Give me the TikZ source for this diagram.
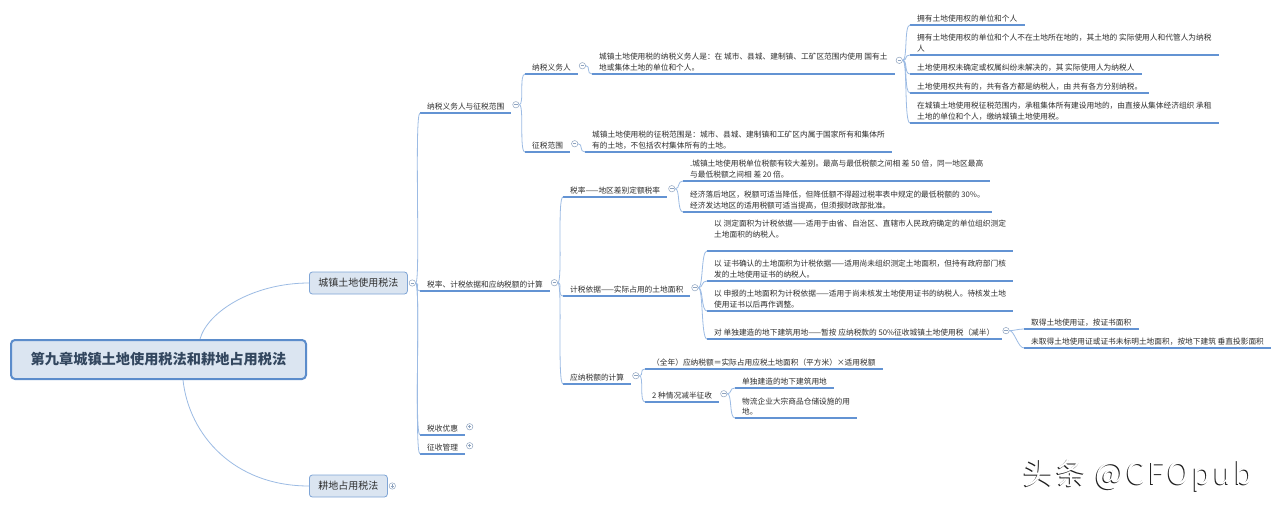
\documentclass[tikz,border=0pt]{standalone}
\usepackage{fontspec}
\setmainfont{Noto Sans CJK SC}
\definecolor{fondoTema}{HTML}{DBE5F1}
\definecolor{bordeRaiz}{HTML}{5B8CCB}
\definecolor{bordeTema}{HTML}{7FA5D6}
\definecolor{lineaRama}{HTML}{9CBBE4}
\definecolor{lineaTema}{HTML}{6393D3}
\definecolor{textoGris}{HTML}{2E2E2E}
\definecolor{textoRaiz}{HTML}{33475F}
\definecolor{marcaGris}{HTML}{8EA3BF}
\definecolor{sombra}{HTML}{1E1E1E}

\tikzset{
  tema/.style={anchor=south west, inner xsep=7pt, inner ysep=2.5pt, align=left},
  subrayado/.style={draw=lineaTema, line width=1.1pt},
  rama/.style={draw=lineaRama, line width=0.8pt},
  raizcaja/.style={rounded corners=4pt, fill=fondoTema, draw=bordeRaiz,
    line width=2pt, minimum width=295pt, minimum height=39pt,
    font=\fontsize{14.2}{16}\selectfont\bfseries, text=textoRaiz},
  temacaja/.style={rounded corners=3pt, fill=fondoTema, draw=bordeTema,
    line width=0.8pt, minimum height=22pt, inner xsep=9pt,
    font=\fontsize{10}{12}\selectfont, anchor=west},
  marcabase/.style={circle, draw=marcaGris, fill=white, line width=0.5pt,
    minimum size=6.4pt, inner sep=0pt},
  colapsar/.style={marcabase, path picture={
    \draw[marcaGris, line width=0.6pt]
      ([xshift=1.5pt]path picture bounding box.west) --
      ([xshift=-1.5pt]path picture bounding box.east);}},
  expandir/.style={marcabase, path picture={
    \draw[marcaGris, line width=0.6pt]
      ([xshift=1.5pt]path picture bounding box.west) --
      ([xshift=-1.5pt]path picture bounding box.east)
      ([yshift=1.5pt]path picture bounding box.south) --
      ([yshift=-1.5pt]path picture bounding box.north);}},
  firmaletra/.style={font=\fontsize{30}{32}\selectfont\addfontfeature{LetterSpace=9},
    anchor=west},
}

\begin{document}
\begin{tikzpicture}[x=1pt, y=-1pt,
    every node/.style={font=\fontsize{7.7}{10.8}\selectfont, text=textoGris}]

  \useasboundingbox (0,0) rectangle (1280,508);
  \fill[white] (0,0) rectangle (1280,508);

  \def\XB{420}    % ramas de segundo nivel
  \def\XC{525}    % sujetos / ambito
  \def\XD{563}    % tasa / base / cuota
  \def\XE{910}    % casos de contribuyente

  % ── Tema central y temas principales ──────────────────────
  \node[raizcaja] (raiz) at (158.5,359.5) {第九章城镇土地使用税法和耕地占用税法};
  \node[temacaja] (urbano) at (309,283) {城镇土地使用税法};
  \node[temacaja] (cultivo) at (309,486) {耕地占用税法};

  % ── Segundo nivel ─────────────────────────────────────────
  \node[tema] (sujetos)    at (\XB,113) {纳税义务人与征税范围};
  \node[tema] (calculo)    at (\XB,291) {税率、计税依据和应纳税额的计算};
  \node[tema] (beneficios) at (\XB,435) {税收优惠};
  \node[tema] (gestion)    at (\XB,454) {征收管理};

  % ── Sujetos y ámbito ──────────────────────────────────────
  \node[tema] (contrib) at (\XC,74) {纳税义务人};
  \node[tema] (ambito)  at (\XC,152) {征税范围};
  \node[tema] (contribTxt) at (592,74)
    {城镇土地使用税的纳税义务人是：在 城市、县城、建制镇、工矿区范围内使用 国有土\\地或集体土地的单位和个人。};
  \node[tema] (ambitoTxt) at (585,152)
    {城镇土地使用税的征税范围是：城市、县城、建制镇和工矿区内属于国家所有和集体所\\有的土地，不包括农村集体所有的土地。};

  \node[tema] (contribA) at (\XE,25) {拥有土地使用权的单位和个人};
  \node[tema] (contribB) at (\XE,55)
    {拥有土地使用权的单位和个人不在土地所在地的，其土地的 实际使用人和代管人为纳税\\人};
  \node[tema] (contribC) at (\XE,74) {土地使用权未确定或权属纠纷未解决的，其 实际使用人为纳税人};
  \node[tema] (contribD) at (\XE,93) {土地使用权共有的，共有各方都是纳税人，由 共有各方分别纳税。};
  \node[tema] (contribE) at (\XE,123)
    {在城镇土地使用税征税范围内，承租集体所有建设用地的，由直接从集体经济组织 承租\\土地的单位和个人，缴纳城镇土地使用税。};

  % ── Tasa, base y cuota ────────────────────────────────────
  \node[tema] (tasa)  at (\XD,197) {税率——地区差别定额税率};
  \node[tema] (base)  at (\XD,296) {计税依据——实际占用的土地面积};
  \node[tema] (cuota) at (\XD,384) {应纳税额的计算};

  \node[tema] (tasaA) at (683,181)
    {.城镇土地使用税单位税额有较大差别。最高与最低税额之间相 差 50 倍，同一地区最高\\与最低税额之间相 差 20 倍。};
  \node[tema] (tasaB) at (683,212)
    {经济落后地区，税额可适当降低，但降低额不得超过税率表中规定的最低税额的 30\%。\\经济发达地区的适用税额可适当提高，但须报财政部批准。};

  \node[tema, inner ysep=13pt] (baseA) at (707,251)
    {以 测定面积为计税依据——适用于由省、自治区、直辖市人民政府确定的单位组织测定\\土地面积的纳税人。};
  \node[tema] (baseB) at (707,281)
    {以 证书确认的土地面积为计税依据——适用尚未组织测定土地面积，但持有政府部门核\\发的土地使用证书的纳税人。};
  \node[tema] (baseC) at (707,311)
    {以 申报的土地面积为计税依据——适用于尚未核发土地使用证书的纳税人。待核发土地\\使用证书以后再作调整。};
  \node[tema] (baseD) at (707,339)
    {对 单独建造的地下建筑用地——暂按 应纳税款的 50\%征收城镇土地使用税（减半）};
  \node[tema] (baseDa) at (1024,329) {取得土地使用证，按证书面积};
  \node[tema] (baseDb) at (1024,348) {未取得土地使用证或证书未标明土地面积，按地下建筑 垂直投影面积};

  \node[tema] (cuotaA) at (645,369) {（全年）应纳税额＝实际占用应税土地面积（平方米）×适用税额};
  \node[tema] (cuotaB) at (645,402) {2 种情况减半征收};
  \node[tema] (cuotaBa) at (735,388) {单独建造的地下建筑用地};
  \node[tema] (cuotaBb) at (735,418) {物流企业大宗商品仓储设施的用\\地。};

  % ── Subrayados ────────────────────────────────────────────
  \foreach \n in {sujetos,calculo,beneficios,gestion,contrib,ambito,
      contribTxt,ambitoTxt,contribA,contribB,contribC,contribD,contribE,
      tasa,base,cuota,tasaA,tasaB,baseA,baseB,baseC,baseD,baseDa,baseDb,
      cuotaA,cuotaB,cuotaBa,cuotaBb}
    \draw[subrayado] (\n.south west) -- (\n.south east);

  % ── Marcas de plegado ─────────────────────────────────────
  \node[colapsar] (m-urbano) at ([xshift=4.5pt]urbano.east) {};
  \node[expandir] (m-cultivo) at ([xshift=4.5pt]cultivo.east) {};
  \foreach \n in {sujetos,calculo,contrib,ambito,contribTxt,tasa,base,cuota,baseD,cuotaB}
    \node[colapsar] (m-\n) at ([xshift=4.5pt,yshift=2pt]\n.east) {};
  \foreach \n in {beneficios,gestion}
    \node[expandir] (m-\n) at ([xshift=4.5pt,yshift=2pt]\n.east) {};

  % ── Ramas ─────────────────────────────────────────────────
  \draw[rama] ([xshift=41.5pt]raiz.north) .. controls +(8,-28) and +(-55,0) .. (urbano.west);
  \draw[rama] ([xshift=24.5pt]raiz.south) .. controls +(6,55) and +(-75,0) .. (cultivo.west);

  \foreach \p/\h in {urbano/sujetos, urbano/calculo, urbano/beneficios, urbano/gestion,
      sujetos/contrib, sujetos/ambito, contrib/contribTxt, ambito/ambitoTxt,
      contribTxt/contribA, contribTxt/contribB, contribTxt/contribC,
      contribTxt/contribD, contribTxt/contribE,
      calculo/tasa, calculo/base, calculo/cuota,
      tasa/tasaA, tasa/tasaB,
      base/baseA, base/baseB, base/baseC, base/baseD,
      baseD/baseDa, baseD/baseDb,
      cuota/cuotaA, cuota/cuotaB,
      cuotaB/cuotaBa, cuotaB/cuotaBb}
    \draw[rama] (m-\p.east) .. controls +(5,0) and +(-6,0) .. (\h.south west);

  % ── Firma ─────────────────────────────────────────────────
  \node[firmaletra, text=sombra] (firma) at (1019,476.5) {头条 @CFOpub};
  \node[firmaletra, text=white] (firmaLuz) at (1020.1,475.6) {头条 @CFOpub};

\end{tikzpicture}
\end{document}
